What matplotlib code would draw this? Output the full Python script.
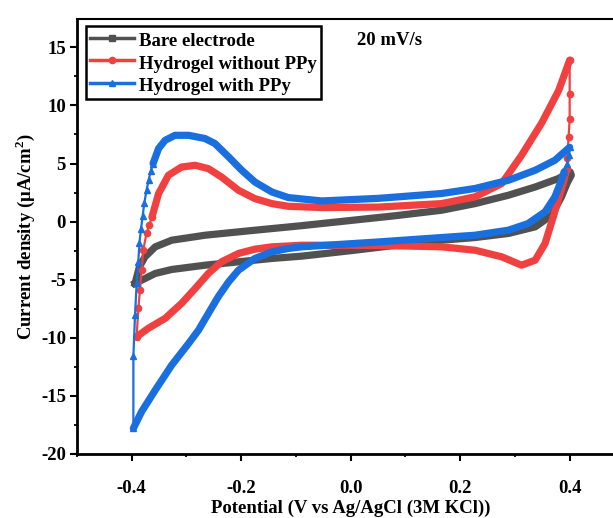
import numpy as np
import matplotlib
matplotlib.use('Agg')
import matplotlib.pyplot as plt
from matplotlib.lines import Line2D
from matplotlib.ticker import MultipleLocator

plt.rcParams['font.family'] = ['Liberation Serif', 'DejaVu Serif']
plt.rcParams['font.weight'] = 'bold'
plt.rcParams['mathtext.fontset'] = 'custom'
plt.rcParams['mathtext.rm'] = 'Liberation Serif:bold'
plt.rcParams['mathtext.bf'] = 'Liberation Serif:bold'

# Bare electrode (closed loop: upper branch left->right, then lower branch right->left)
bare_x = [-0.394, -0.386, -0.376, -0.357, -0.327, -0.266, -0.175, -0.09, 0.0, 0.08, 0.166, 0.227, 0.288,
          0.337, 0.379, 0.401,
          0.403, 0.395, 0.385, 0.367, 0.337, 0.288, 0.227, 0.166, 0.08, 0.0, -0.089, -0.144, -0.205,
          -0.266, -0.327, -0.357, -0.388, -0.394]
bare_y = [-5.32, -3.9, -3.04, -2.17, -1.6, -1.17, -0.74, -0.35, 0.1, 0.5, 0.98, 1.55, 2.27,
          2.98, 3.7, 4.27,
          4.0, 3.28, 2.13, 0.55, -0.45, -1.02, -1.37, -1.6, -2.05, -2.5, -2.97, -3.17, -3.46,
          -3.75, -4.12, -4.46, -5.18, -5.32]

# Hydrogel without PPy
red_rise_x = [-0.391, -0.388, -0.385, -0.382, -0.379, -0.373, -0.368, -0.363]
red_rise_y = [-9.91, -7.47, -5.9, -4.18, -2.46, -1.0, -0.3, 0.4]
red_fwd_x = [-0.363, -0.351, -0.333, -0.309, -0.284, -0.26, -0.236, -0.205, -0.175, -0.144, -0.114,
             -0.053, 0.05, 0.166, 0.227, 0.276, 0.312, 0.349, 0.38, 0.40]
red_fwd_y = [0.4, 2.41, 3.99, 4.70, 4.85, 4.56, 3.84, 2.70, 1.98, 1.55, 1.32,
             1.21, 1.25, 1.55, 2.13, 3.28, 5.7, 8.5, 11.3, 13.9]
red_drop_x = [0.40, 0.40, 0.40, 0.398, 0.396, 0.395]
red_drop_y = [13.9, 11.0, 8.8, 7.3, 5.5, 4.56]
red_rev_x = [0.395, 0.388, 0.379, 0.37, 0.355, 0.337, 0.312, 0.276, 0.227, 0.166, 0.05, -0.089, -0.144,
             -0.175, -0.205, -0.236, -0.26, -0.284, -0.309, -0.339, -0.37, -0.391]
red_rev_y = [4.56, 3.28, 1.84, 0.4, -1.88, -3.32, -3.75, -3.03, -2.46, -2.17, -2.05, -2.03, -2.17,
             -2.37, -2.74, -3.46, -4.46, -5.75, -7.04, -8.33, -9.19, -9.91]

# Hydrogel with PPy
blue_rise_x = [-0.397, -0.397, -0.394, -0.391, -0.388, -0.386, -0.383, -0.38, -0.377, -0.373, -0.369,
               -0.365, -0.361]
blue_rise_y = [-17.79, -11.6, -8.05, -5.32, -3.46, -1.88, -0.6, 0.5, 1.6, 2.7, 3.6, 4.4, 5.0]
blue_fwd_x = [-0.361, -0.351, -0.339, -0.321, -0.296, -0.266, -0.248, -0.223, -0.199, -0.175, -0.144,
              -0.114, -0.053, 0.05, 0.166, 0.227, 0.288, 0.337, 0.373, 0.40]
blue_fwd_y = [5.0, 6.29, 7.0, 7.43, 7.43, 7.15, 6.72, 5.57, 4.42, 3.41, 2.55,
              2.07, 1.78, 2.0, 2.42, 2.85, 3.56, 4.42, 5.28, 6.4]
blue_drop_x = [0.40, 0.399, 0.395, 0.39]
blue_drop_y = [6.4, 5.7, 5.0, 4.3]
blue_rev_x = [0.39, 0.385, 0.373, 0.355, 0.324, 0.288, 0.227, 0.166, 0.05, -0.089, -0.114, -0.144,
              -0.175, -0.205, -0.223, -0.242, -0.26, -0.278, -0.296, -0.327, -0.357, -0.382, -0.397]
blue_rev_y = [4.3, 3.56, 2.13, 0.84, -0.17, -0.74, -1.17, -1.37, -1.75, -2.17, -2.31, -2.6,
              -3.17, -4.18, -5.18, -6.47, -7.9, -9.34, -10.48, -12.35, -14.5, -16.36, -17.79]

labels = ['Bare electrode', 'Hydrogel without PPy', 'Hydrogel with PPy']
colors = ['#515151', '#F14040', '#1A6FDF']

fig = plt.figure(figsize=(6.13, 5.18), dpi=100)
ax = fig.add_axes([0.1256, 0.1236, 0.893, 0.8388])

thick = 5.2
thin = 1.6
ax.plot(bare_x, bare_y, color=colors[0], lw=thick, solid_joinstyle='round')

ax.plot(red_fwd_x, red_fwd_y, color=colors[1], lw=thick, solid_capstyle='round', solid_joinstyle='round')
ax.plot(red_rev_x, red_rev_y, color=colors[1], lw=thick, solid_capstyle='round', solid_joinstyle='round')
ax.plot(red_drop_x, red_drop_y, color=colors[1], lw=thin, marker='o', ms=4.5)
ax.plot(red_rise_x, red_rise_y, color=colors[1], lw=thin, marker='o', ms=4.5)

ax.plot(blue_fwd_x, blue_fwd_y, color=colors[2], lw=thick, solid_capstyle='round', solid_joinstyle='round')
ax.plot(blue_rev_x, blue_rev_y, color=colors[2], lw=thick, solid_capstyle='round', solid_joinstyle='round')
ax.plot(blue_drop_x, blue_drop_y, color=colors[2], lw=thin, marker='^', ms=5)
ax.plot(blue_rise_x, blue_rise_y, color=colors[2], lw=thin, marker='^', ms=5)

ax.set_xlim(-0.5, 0.5)
ax.set_ylim(-20, 17.4)
ax.xaxis.set_minor_locator(MultipleLocator(0.1))
ax.yaxis.set_minor_locator(MultipleLocator(2.5))
ax.set_xticks([-0.4, -0.2, 0.0, 0.2, 0.4])
ax.set_xticklabels(['-0.4', '-0.2', '0.0', '0.2', '0.4'])
ax.set_yticks([-20, -15, -10, -5, 0, 5, 10, 15])
ax.set_yticklabels(['-20', '-15', '-10', '-5', '0', '5', '10', '15'])

ax.tick_params(which='major', direction='out', length=5, width=1.5, labelsize=13.5)
ax.tick_params(which='minor', direction='out', length=2.5, width=1.3)
ax.tick_params(axis='x', which='major', pad=14)
ax.tick_params(axis='y', which='major', pad=3)
for side in ['left', 'bottom']:
    ax.spines[side].set_linewidth(2.0)
ax.spines['top'].set_linewidth(1.5)
ax.spines['right'].set_linewidth(1.5)

ax.set_xlabel('Potential (V vs Ag/AgCl (3M KCl))', fontsize=13.5, fontweight='bold')
ax.xaxis.set_label_coords(0.5, -0.105)
ax.set_ylabel(r'Current density ($\mathrm{\mu}$A/cm$^{2}$)', fontsize=13.5, fontweight='bold', labelpad=3)

ax.text(0.012, 15.6, '20 mV/s', fontsize=13.5, fontweight='bold', ha='left', va='center')

handles = [Line2D([], [], color=colors[0], lw=2.5, marker='s', ms=4.5),
           Line2D([], [], color=colors[1], lw=2.5, marker='o', ms=4.5),
           Line2D([], [], color=colors[2], lw=2.5, marker='^', ms=5)]
leg = ax.legend(handles, labels, loc='upper left', bbox_to_anchor=(0.016, 0.985), borderaxespad=0,
                fontsize=13.5, frameon=True, fancybox=False, edgecolor='black', framealpha=1,
                handlelength=2.35, handletextpad=0.3, labelspacing=0.1, borderpad=0.2,
                handleheight=1.3)
leg.get_frame().set_linewidth(1.8)
for t in leg.get_texts():
    t.set_fontweight('bold')

fig.savefig('out.png', dpi=100)
